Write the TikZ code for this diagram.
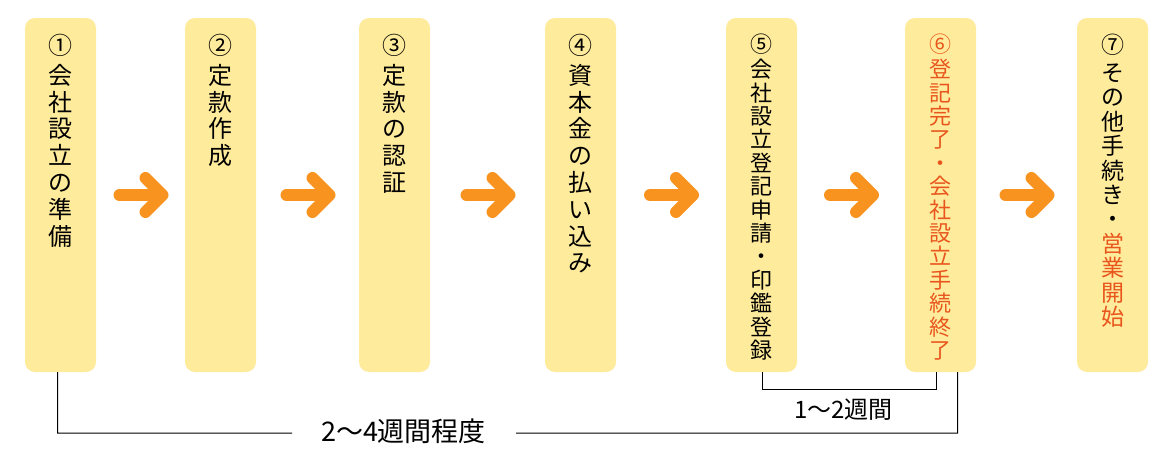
\documentclass[tikz,border=0pt]{standalone}
\usepackage{fontspec}
\setmainfont{Noto Sans CJK JP}
\usetikzlibrary{calc}
\definecolor{boxfill}{HTML}{FFEB9C}
\definecolor{arrowc}{HTML}{F7931E}
\definecolor{redor}{HTML}{E8561E}
\begin{document}
\begin{tikzpicture}[x=1pt,y=-1pt,
  stepbox/.style={draw=none, fill=boxfill, rounded corners=10pt, minimum width=71pt, minimum height=354pt, inner sep=0pt},
  vt/.style={anchor=north, inner sep=0pt, align=center, font=\fontsize{24pt}{26.8pt}\selectfont},
  vts/.style={anchor=north, inner sep=0pt, align=center, font=\fontsize{22pt}{23.4pt}\selectfont},
  vtm/.style={anchor=north, inner sep=0pt, align=center, font=\fontsize{23pt}{24.4pt}\selectfont},
  arr/.style={draw=arrowc, line width=12pt, line cap=round, line join=round},
  br/.style={draw=black, line width=1pt},
  lbl/.style={inner sep=0pt, font=\fontsize{27pt}{27pt}\selectfont},
]
\fill[white] (0,0) rectangle (1170,450);
\useasboundingbox (0,0) rectangle (1170,450);

\node[stepbox] (b1) at (60.5,195) {};
\node[stepbox] (b2) at (220.5,195) {};
\node[stepbox] (b3) at (394.5,195) {};
\node[stepbox] (b4) at (580.5,195) {};
\node[stepbox] (b5) at (761.5,195) {};
\node[stepbox] (b6) at (940.5,195) {};
\node[stepbox] (b7) at (1112.5,195) {};

\node[vt] (t1) at ($(b1.north)+(0,16)$) {①\\[3.2pt]会\\社\\設\\立\\の\\準\\備};
\node[vt] (t2) at ($(b2.north)+(0,16)$) {②\\[3.2pt]定\\款\\作\\成};
\node[vt] (t3) at ($(b3.north)+(0,16)$) {③\\[3.2pt]定\\款\\の\\認\\証};
\node[vt] (t4) at ($(b4.north)+(0,16)$) {④\\[3.2pt]資\\本\\金\\の\\払\\い\\込\\み};
\node[vts] (t5) at ($(b5.north)+(0,16)$) {⑤\\[1.6pt]会\\社\\設\\立\\登\\記\\申\\請\\・\\印\\鑑\\登\\録};
\node[vts, text=redor] (t6) at ($(b6.north)+(0,16)$) {⑥\\[1.6pt]登\\記\\完\\了\\・\\会\\社\\設\\立\\手\\続\\終\\了};
\node[vtm] (t7) at ($(b7.north)+(0,16)$) {⑦\\[3.6pt]そ\\の\\他\\手\\続\\き\\・\\{\color{redor}営}\\{\color{redor}業}\\{\color{redor}開}\\{\color{redor}始}};

\foreach \a/\b [count=\i] in {b1/b2,b2/b3,b3/b4,b4/b5,b5/b6,b6/b7}{
  \coordinate (m\i) at ($(\a.east)!0.5!(\b.west)$);
  \draw[arr] ($(m\i)+(-21,0)$) -- ($(m\i)+(20,0)$);
  \draw[arr] ($(m\i)+(5,-17)$) -- ($(m\i)+(22,0)$) -- ($(m\i)+(5,17)$);
}

\node[lbl] (w1) at (403.5,431) {2～4週間程度};
\node[lbl, font=\fontsize{24pt}{24pt}\selectfont] (w2) at (843.5,410) {1～2週間};

\coordinate (c1) at ($(b1.south)+(-3,61)$);
\coordinate (c2) at ($(b6.south)+(17,61)$);
\draw[br] ([xshift=-3pt]b1.south) -- (c1) -- (292,433);
\draw[br] (516,433) -- (c2) -- ([xshift=17pt]b6.south);
\draw[br] ([xshift=0.5pt]b5.south) -- ++(0,17) -| ([xshift=-4pt]b6.south);
\end{tikzpicture}
\end{document}
